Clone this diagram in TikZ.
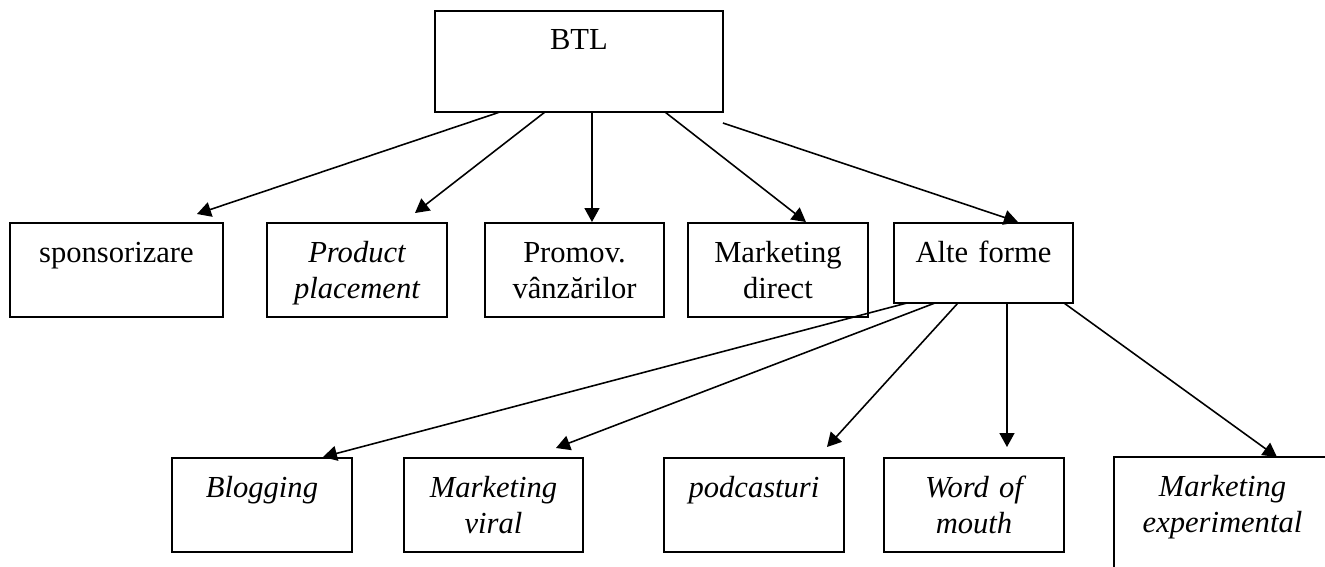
\documentclass[tikz,border=0pt]{standalone}
\usepackage{fontspec}
\setmainfont{Liberation Serif}
\usetikzlibrary{arrows.meta}

\begin{document}
\begin{tikzpicture}[x=0.02cm,y=-0.02cm,
  boite/.style={draw, line width=0.9pt, rectangle, inner sep=0pt, outer sep=0pt,
    anchor=north west, align=center, text height=0.78cm,
    font=\fontsize{17.4}{20.5}\selectfont},
  fleche/.style={line width=0.9pt, -{Triangle[length=0.28cm,width=0.3cm]}}]
\clip (0,0) rectangle (1325,566);
\useasboundingbox (0,0) rectangle (1325,566);

% Niveau 1
\node[boite, text width=5.76cm, text depth=1.24cm] (btl) at (435,11) {BTL};

% Niveau 2
\node[boite, text width=4.26cm, text depth=1.10cm] (spons) at (10,223) {sponsorizare};
\node[boite, text width=3.6cm, text depth=1.10cm] (product) at (267,223) {\itshape Product\\ \itshape placement};
\node[boite, text width=3.58cm, text depth=1.10cm] (promov) at (485,223) {Promov.\\ vânzărilor};
\node[boite, text width=3.6cm, text depth=1.10cm] (mdirect) at (688,223) {Marketing\\ direct};
\node[boite, text width=3.58cm, text depth=0.82cm] (alte) at (894,223) {Alte forme};

% Niveau 3
\node[boite, text width=3.6cm, text depth=1.10cm] (blog) at (172,458) {\itshape Blogging};
\node[boite, text width=3.58cm, text depth=1.10cm] (viral) at (404,458) {\itshape Marketing\\ \itshape viral};
\node[boite, text width=3.6cm, text depth=1.10cm] (podc) at (664,458) {\itshape podcasturi};
\node[boite, text width=3.6cm, text depth=1.10cm] (wom) at (884,458) {\itshape Word of\\ \itshape mouth};
\node[boite, text width=4.34cm, text depth=1.82cm] (mexp) at (1114,457) {\itshape Marketing\\ \itshape experimental};

% Fleches depuis BTL
\draw[fleche] ([xshift=1.3cm]btl.south west) -- ([xshift=3.74cm,yshift=0.18cm]spons.north west);
\draw[fleche] ([xshift=2.2cm]btl.south west) -- ([xshift=2.96cm,yshift=0.2cm]product.north west);
\draw[fleche] ([xshift=3.14cm]btl.south west) -- ([xshift=2.14cm,yshift=0.02cm]promov.north west);
\draw[fleche] ([xshift=4.6cm]btl.south west) -- ([xshift=2.36cm,yshift=0.02cm]mdirect.north west);
\draw[fleche] ([yshift=-0.22cm]btl.south east) -- ([xshift=2.48cm,yshift=0.02cm]alte.north west);

% Fleches depuis Alte forme
\draw[fleche] ([xshift=0.26cm]alte.south west) -- ([xshift=3.02cm,yshift=0.02cm]blog.north west);
\draw[fleche] ([xshift=0.82cm]alte.south west) -- ([xshift=3.04cm,yshift=0.2cm]viral.north west);
\draw[fleche] ([xshift=1.28cm]alte.south west) -- ([xshift=3.26cm,yshift=0.22cm]podc.north west);
\draw[fleche] ([xshift=2.26cm]alte.south west) -- ([xshift=2.46cm,yshift=0.22cm]wom.north west);
\draw[fleche] ([xshift=3.4cm]alte.south west) -- ([xshift=3.26cm]mexp.north west);

\end{tikzpicture}
\end{document}
